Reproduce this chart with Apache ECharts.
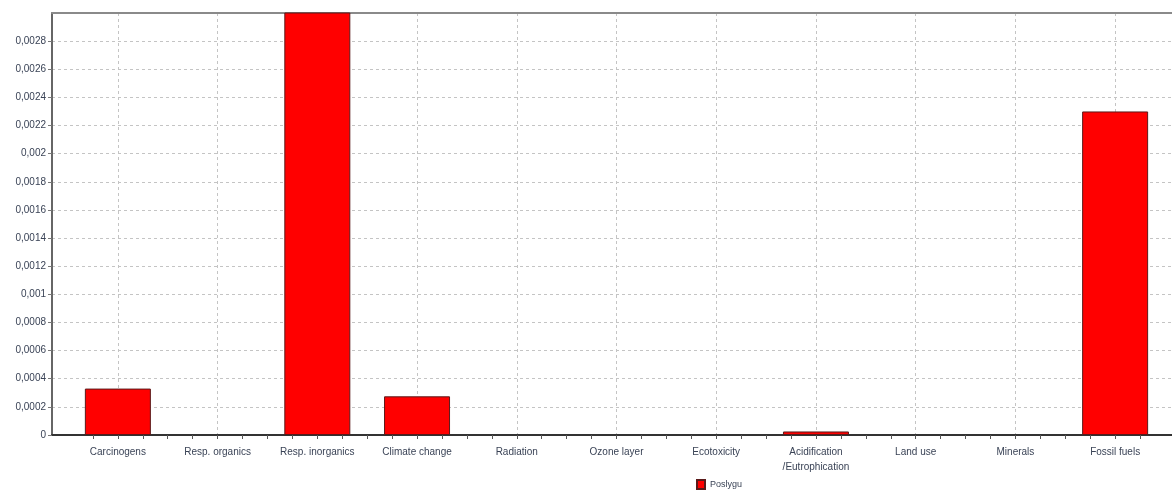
<!DOCTYPE html>
<html>
<head>
<meta charset="utf-8">
<script src="https://cdn.jsdelivr.net/npm/echarts@6/dist/echarts.min.js"></script>
<style>
html,body{margin:0;padding:0;background:#fff;}
#chart{width:1172px;height:493px;}
</style>
</head>
<body>
<div id="chart"></div>
<script>
var categories = ['Carcinogens', 'Resp. organics', 'Resp. inorganics', 'Climate change', 'Radiation', 'Ozone layer', 'Ecotoxicity', 'Acidification\n/Eutrophication', 'Land use', 'Minerals', 'Fossil fuels'];
var values = [0.00033, 0, 0.0031, 0.000275, 0, 0, 0, 0.000025, 0, 0, 0.0023];
var seriesName = 'Poslygu';
var yMax = 0.003;
var yStep = 0.0002;

var chart = echarts.init(document.getElementById('chart'), null, {renderer: 'canvas'});
var font = 'Liberation Sans';
var labelColor = '#3a4356';

var option = {
  animation: false,
  backgroundColor: '#ffffff',
  grid: [
    {left: 52, right: 0, top: 13, bottom: 58},
    {left: 68, right: 7, top: 13, bottom: 58},
    {left: 118, right: 57, top: 13, bottom: 58}
  ],
  legend: {
    bottom: -2,
    left: 691,
    itemWidth: 8,
    itemHeight: 9,
    itemGap: 5,
    icon: 'rect',
    textStyle: {fontFamily: font, fontSize: 9, color: labelColor},
    data: [seriesName]
  },
  xAxis: [
    {
      type: 'value', gridIndex: 0, min: 0, max: 1, position: 'bottom',
      axisLine: {show: true, onZero: false, lineStyle: {color: '#333', width: 2}},
      axisTick: {show: false}, axisLabel: {show: false}, splitLine: {show: false}
    },
    {
      type: 'value', gridIndex: 1, min: -0.5, max: 10.5, interval: 0.25,
      axisLine: {show: false, onZero: false},
      axisTick: {show: true, length: 4, lineStyle: {color: '#555'}},
      axisLabel: {
        show: true, margin: 10, fontFamily: font, fontSize: 10, color: labelColor, lineHeight: 15,
        showMinLabel: false, showMaxLabel: false,
        formatter: function (v) {
          var r = Math.round(v);
          if (Math.abs(v - r) < 1e-6 && r >= 0 && r < categories.length) return categories[r];
          return '';
        }
      },
      splitLine: {show: false}
    },
    {
      type: 'value', gridIndex: 2, min: 0, max: 10, interval: 1,
      axisLine: {show: false}, axisTick: {show: false}, axisLabel: {show: false},
      splitLine: {show: true, lineStyle: {color: '#c4c4c4', type: [3, 3], width: 1}}
    },
    {
      type: 'value', gridIndex: 0, min: 0, max: 1, position: 'top',
      axisLine: {show: true, onZero: false, lineStyle: {color: '#8a8a8a', width: 2}},
      axisTick: {show: false}, axisLabel: {show: false}, splitLine: {show: false}
    }
  ],
  yAxis: [
    {
      type: 'value', gridIndex: 0, min: 0, max: yMax, interval: yStep,
      axisLine: {show: true, lineStyle: {color: '#666', width: 2}},
      axisTick: {show: true, length: 4, lineStyle: {color: '#777'}},
      axisLabel: {
        fontFamily: font, fontSize: 10, color: labelColor, margin: 6, showMaxLabel: false,
        formatter: function (v) {
          if (v === 0) return '0';
          return parseFloat(v.toFixed(6)).toString().replace('.', ',');
        }
      },
      splitLine: {show: true, lineStyle: {color: '#c4c4c4', type: [3, 3], width: 1}}
    },
    {type: 'value', gridIndex: 1, min: 0, max: yMax, show: false, splitLine: {show: false}},
    {type: 'value', gridIndex: 2, min: 0, max: yMax, show: false, splitLine: {show: false}}
  ],
  series: [
    {
      name: seriesName,
      type: 'bar',
      xAxisIndex: 1,
      yAxisIndex: 1,
      barWidth: 66,
      clip: true,
      itemStyle: {color: '#ff0000', borderColor: '#5a1a1a', borderWidth: 1},
      data: values.map(function (v, i) { return [i, v === 0 ? null : v]; })
    }
  ]
};
chart.setOption(option);
</script>
</body>
</html>
